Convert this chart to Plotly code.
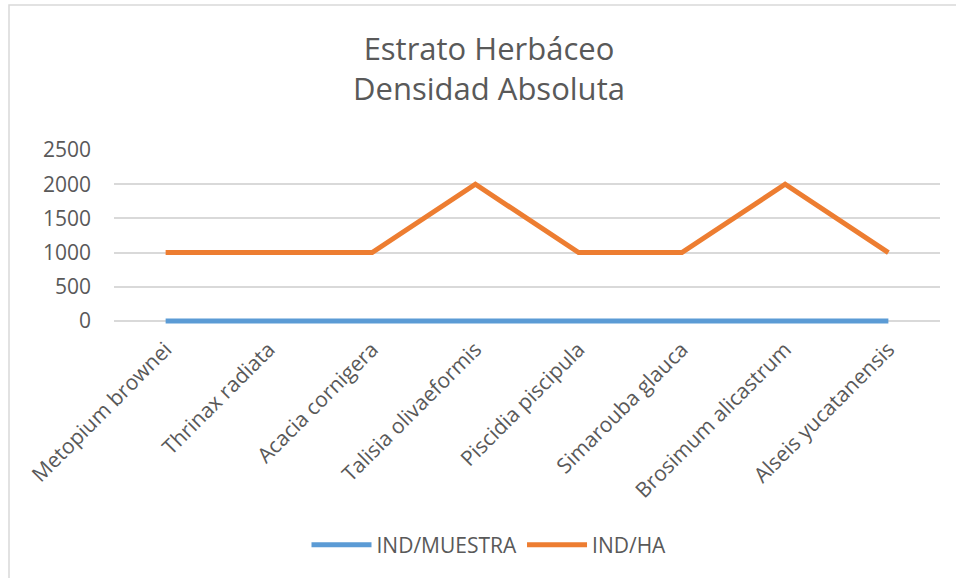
import plotly.graph_objects as go

# Species sampled in the herbaceous stratum
species = [
    "Metopium brownei",
    "Thrinax radiata",
    "Acacia cornigera",
    "Talisia olivaeformis",
    "Piscidia piscipula",
    "Simarouba glauca",
    "Brosimum alicastrum",
    "Alseis yucatanensis",
]

# Absolute density per sample and per hectare
ind_muestra = [1, 1, 1, 2, 1, 1, 2, 1]
ind_ha = [1000, 1000, 1000, 2000, 1000, 1000, 2000, 1000]

y_ticks = [0, 500, 1000, 1500, 2000, 2500]

TEXT = "#595959"
GRID = "#D9D9D9"
FONT = "Open Sans"

# small headroom below zero so the baseline series is not clipped
Y_MIN = -2500 * 3 / 171

fig = go.Figure()
fig.add_trace(go.Scatter(
    x=species, y=ind_muestra, name="IND/MUESTRA", mode="lines",
    line=dict(color="#5B9BD5", width=5), cliponaxis=False,
))
fig.add_trace(go.Scatter(
    x=species, y=ind_ha, name="IND/HA", mode="lines",
    line=dict(color="#ED7D31", width=5), cliponaxis=False,
))

fig.update_layout(
    width=956, height=578,
    margin=dict(l=114, r=16, t=150, b=254),
    paper_bgcolor="white", plot_bgcolor="white",
    font=dict(family=FONT, color=TEXT, size=21),
    title=dict(
        text="Estrato Herbáceo<br>Densidad Absoluta",
        font=dict(family=FONT, size=31, color=TEXT),
        x=489 / 956, xanchor="center", xref="container",
        y=1 - 60 / 578, yanchor="top", yref="container",
    ),
    xaxis=dict(
        type="category", range=[-0.5, len(species) - 0.5],
        showgrid=False, showline=False, zeroline=False,
        tickangle=-45, ticks="", ticklabelstandoff=8,
        tickfont=dict(size=21, color=TEXT),
    ),
    yaxis=dict(
        range=[Y_MIN, 2500], tickvals=y_ticks,
        showgrid=True, gridcolor=GRID, gridwidth=1.5,
        zeroline=False, showline=False, ticks="",
        ticklabelstandoff=22,
        tickfont=dict(size=21, color=TEXT),
    ),
    legend=dict(
        orientation="h", x=489 / 956, xref="container", xanchor="center",
        y=1 - 545 / 578, yref="container", yanchor="middle",
        font=dict(size=21, color=TEXT), itemwidth=60,
        traceorder="normal",
    ),
    showlegend=True,
)

# Chart frame
fig.add_shape(
    type="rect", xref="paper", yref="paper",
    x0=(9 - 114) / 826, x1=1.2, y0=-3, y1=(324 - 5) / 174,
    line=dict(color=GRID, width=1.5), fillcolor="rgba(0,0,0,0)", layer="below",
)

fig.write_html("out.html")
